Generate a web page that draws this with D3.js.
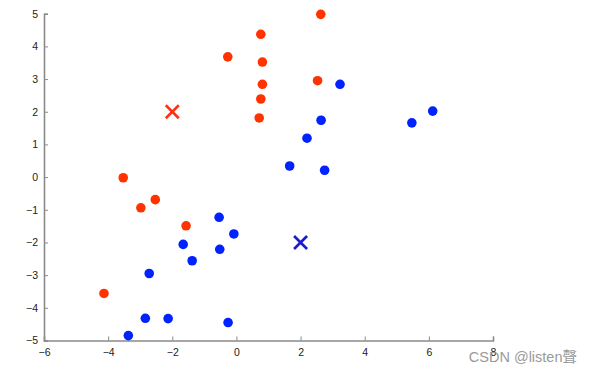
<!DOCTYPE html>
<html><head><meta charset="utf-8">
<script src="https://cdn.jsdelivr.net/npm/d3@7"></script>
<style>body{margin:0;background:#fff;}svg{display:block;}</style>
</head><body>
<svg id="c" width="592" height="375"></svg>
<script>
const redX = [0.76,-0.27,0.81,0.81,0.76,0.71,-3.53,2.63,2.53,-2.98,-2.53,-1.57,-4.13];
const redY = [4.37,3.68,3.52,2.84,2.39,1.81,-0.02,4.98,2.95,-0.94,-0.69,-1.49,-3.56];
const blueX = [1.66,3.23,2.64,2.20,2.75,5.47,6.12,-0.54,-0.08,-1.66,-0.52,-1.38,-2.72,-2.84,-2.13,-0.26,-3.37];
const blueY = [0.34,2.84,1.74,1.19,0.21,1.66,2.02,-1.23,-1.74,-2.06,-2.21,-2.56,-2.95,-4.32,-4.33,-4.45,-4.85];
const centroidX = [-2, 2];
const centroidY = [2, -2];
const centroidColors = ["#ff3311", "#1a1ad6"];
const xTicks = [-6,-4,-2,0,2,4,6,8];
const yTicks = [-5,-4,-3,-2,-1,0,1,2,3,4,5];

const svg = d3.select("#c");
const x = d3.scaleLinear().domain([-6, 8]).range([44, 493]);
const y = d3.scaleLinear().domain([-5, 5]).range([340.5, 13.7]);

const axisColor = "#8a8a8a";
const gx = svg.append("g").attr("transform", "translate(0,340.5)")
  .call(d3.axisBottom(x).tickValues(xTicks).tickSize(-4).tickPadding(8).tickFormat(d3.format("d")));
const gy = svg.append("g").attr("transform", "translate(44,0)")
  .call(d3.axisLeft(y).tickValues(yTicks).tickSize(-4).tickPadding(6).tickFormat(d3.format("d")));
[gx, gy].forEach(g => {
  g.select(".domain").attr("stroke", axisColor).attr("stroke-width", 1.6);
  g.selectAll(".tick line").attr("stroke", axisColor).attr("stroke-width", 1);
  g.selectAll(".tick text").attr("fill", "#222").style("font-family", "Liberation Sans, Arial, sans-serif").style("font-size", "10.5px");
});

const red = redX.map((v, i) => [v, redY[i]]);
const blue = blueX.map((v, i) => [v, blueY[i]]);
svg.append("g").selectAll("circle").data(red).join("circle")
  .attr("cx", d => x(d[0])).attr("cy", d => y(d[1])).attr("r", 4.8).attr("fill", "#ff3300");
svg.append("g").selectAll("circle").data(blue).join("circle")
  .attr("cx", d => x(d[0])).attr("cy", d => y(d[1])).attr("r", 4.8).attr("fill", "#0022ff");

const cents = centroidX.map((v, i) => ({x: v, y: centroidY[i], c: centroidColors[i]}));
const s = 6.5;
const cg = svg.append("g").selectAll("g").data(cents).join("g")
  .attr("transform", d => `translate(${x(d.x)},${y(d.y)})`);
cg.append("line").attr("x1", -s).attr("y1", -s).attr("x2", s).attr("y2", s)
  .attr("stroke", d => d.c).attr("stroke-width", 2.6);
cg.append("line").attr("x1", -s).attr("y1", s).attr("x2", s).attr("y2", -s)
  .attr("stroke", d => d.c).attr("stroke-width", 2.6);

svg.append("text").attr("x", 577).attr("y", 362).attr("text-anchor", "end")
  .attr("fill", "#9a9a9a").style("font-family", "Liberation Sans, Arial, 'Noto Sans CJK SC', sans-serif")
  .style("font-size", "14.5px").text("CSDN @listen聲");
</script>
</body></html>
